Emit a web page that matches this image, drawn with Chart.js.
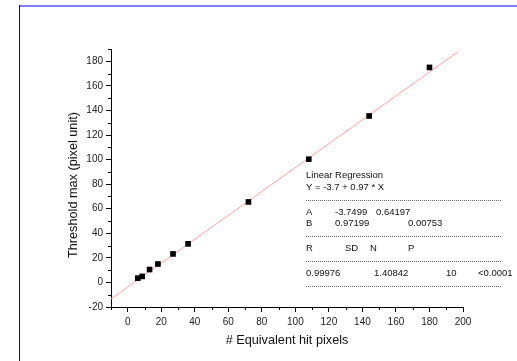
<!DOCTYPE html>
<html>
<head>
<meta charset="utf-8">
<script src="https://cdn.jsdelivr.net/npm/chart.js@4.4.1/dist/chart.umd.min.js"></script>
<style>
    body { margin: 0; background: #fff; }
    #wrap { position: relative; width: 517px; height: 361px; overflow: hidden; }
    #frameTop { position: absolute; left: 19px; top: 5px; width: 498px; height: 2px; background: #7f7ff7; }
    #frameLeft { position: absolute; left: 19px; top: 5px; width: 1px; height: 356px; background: #0000e8; }
    canvas { position: absolute; left: 0; top: 0; }
</style>
</head>
<body>
<div id="wrap">
    <canvas id="scatterChart" width="517" height="361"></canvas>
    <div id="frameTop"></div>
    <div id="frameLeft"></div>
</div>
<script>
"use strict";

// measured points
var hitPixels = [6, 8.6, 13, 18, 27, 36, 72, 108, 144, 180];
var thresholdMax = [3.5, 4.9, 10.5, 15, 23.2, 31.4, 65.5, 100.3, 135.5, 175];

// regression result shown in the box
var fitA = -3.7499;
var fitB = 0.97199;
var fitRange = [-10, 197.3];

var regTitle = ['Linear Regression', 'Y = -3.7 + 0.97 * X'];
var regParams = [['A', '-3.7499', '0.64197'], ['B', '0.97199', '0.00753']];
var regHeader = ['R', 'SD', 'N', 'P'];
var regStats = ['0.99976', '1.40842', '10', '<0.0001'];

var yTitle = 'Threshold max (pixel unit)';
var xTitle = '# Equivalent hit pixels';

var scatterData = hitPixels.map(function(x, i) {
    return { x: x, y: thresholdMax[i] };
});
var fitData = fitRange.map(function(x) {
    return { x: x, y: fitA + fitB * x };
});

var fontFamily = '"Liberation Sans", Arial, sans-serif';

function isMajor(v, step) {
    return Math.abs(v % step) < 1e-9;
}

// minor tick marks (every 10), y title and the regression text box
var extrasPlugin = {
    id: 'extras',
    afterDraw: function(chart) {
        var ctx = chart.ctx;
        var xs = chart.scales.x;
        var ys = chart.scales.y;
        ctx.save();
        ctx.strokeStyle = '#000';
        ctx.lineWidth = 1;
        ctx.beginPath();
        for (var v = -10; v <= 200; v += 10) {
            if (isMajor(v, 20)) continue;
            var px = Math.round(xs.getPixelForValue(v)) + 0.5;
            ctx.moveTo(px, ys.bottom);
            ctx.lineTo(px, ys.bottom + 3);
        }
        for (var w = -10; w <= 190; w += 10) {
            if (isMajor(w, 20)) continue;
            var py = Math.round(ys.getPixelForValue(w)) + 0.5;
            ctx.moveTo(xs.left, py);
            ctx.lineTo(xs.left - 3, py);
        }
        ctx.stroke();

        // y axis title
        ctx.save();
        ctx.translate(73, 185);
        ctx.rotate(-Math.PI / 2);
        ctx.fillStyle = '#111';
        ctx.font = '12.7px ' + fontFamily;
        ctx.textAlign = 'center';
        ctx.textBaseline = 'middle';
        ctx.fillText(yTitle, 0, 0);
        ctx.restore();

        ctx.fillStyle = '#111';
        ctx.font = '9.5px ' + fontFamily;
        ctx.textBaseline = 'middle';
        ctx.textAlign = 'left';
        ctx.fillText(regTitle[0], 306, 175);
        ctx.fillText(regTitle[1], 306, 187);

        ctx.fillText(regParams[0][0], 306, 212);
        ctx.fillText(regParams[0][1], 335, 212);
        ctx.fillText(regParams[0][2], 376, 212);
        ctx.fillText(regParams[1][0], 306, 223);
        ctx.fillText(regParams[1][1], 335, 223);
        ctx.fillText(regParams[1][2], 408, 223);

        var headX = [306, 345, 370, 408];
        regHeader.forEach(function(t, i) { ctx.fillText(t, headX[i], 248); });
        var statX = [306, 374, 446, 478];
        regStats.forEach(function(t, i) { ctx.fillText(t, statX[i], 273); });

        ctx.strokeStyle = '#666';
        ctx.setLineDash([1, 1]);
        ctx.beginPath();
        [200, 236, 261, 286].forEach(function(y) {
            ctx.moveTo(306, y + 0.5);
            ctx.lineTo(501, y + 0.5);
        });
        ctx.stroke();
        ctx.restore();
    }
};

var tickFont = { family: fontFamily, size: 10 };
var titleFont = { family: fontFamily, size: 12.7 };

new Chart(document.getElementById('scatterChart').getContext('2d'), {
    type: 'scatter',
    data: {
        datasets: [
            {
                label: 'Data',
                data: scatterData,
                pointStyle: 'rect',
                pointRadius: 4,
                backgroundColor: '#000',
                borderColor: '#000',
                borderWidth: 0,
                order: 0
            },
            {
                type: 'line',
                label: 'Fit',
                data: fitData,
                borderColor: '#ffa0a0',
                borderWidth: 1,
                pointRadius: 0,
                fill: false,
                order: 1
            }
        ]
    },
    options: {
        responsive: false,
        devicePixelRatio: 1,
        animation: false,
        layout: { padding: { top: 49, right: 54, left: 0, bottom: 0 } },
        plugins: {
            legend: { display: false },
            tooltip: { enabled: false }
        },
        scales: {
            x: {
                type: 'linear',
                min: -10,
                max: 200,
                afterFit: function(scale) { scale.height = 54; },
                ticks: {
                    stepSize: 10,
                    autoSkip: false,
                    maxRotation: 0,
                    color: '#222',
                    font: tickFont,
                    padding: 4,
                    callback: function(v) { return isMajor(v, 20) ? v : ''; }
                },
                grid: {
                    drawOnChartArea: false,
                    tickLength: 5,
                    tickColor: function(c) { return c.tick && isMajor(c.tick.value, 20) ? '#000' : 'rgba(0,0,0,0)'; }
                },
                border: { color: '#000', width: 1 },
                title: {
                    display: true,
                    text: xTitle,
                    color: '#111',
                    font: titleFont,
                    padding: { top: 0, bottom: 13 }
                }
            },
            y: {
                type: 'linear',
                min: -20,
                max: 190,
                afterFit: function(scale) { scale.width = 111; },
                ticks: {
                    stepSize: 10,
                    autoSkip: false,
                    color: '#222',
                    font: tickFont,
                    padding: 3,
                    callback: function(v) { return isMajor(v, 20) ? v : ''; }
                },
                grid: {
                    drawOnChartArea: false,
                    tickLength: 5,
                    tickColor: function(c) { return c.tick && isMajor(c.tick.value, 20) ? '#000' : 'rgba(0,0,0,0)'; }
                },
                border: { color: '#000', width: 1 }
            }
        }
    },
    plugins: [extrasPlugin]
});
</script>
</body>
</html>
